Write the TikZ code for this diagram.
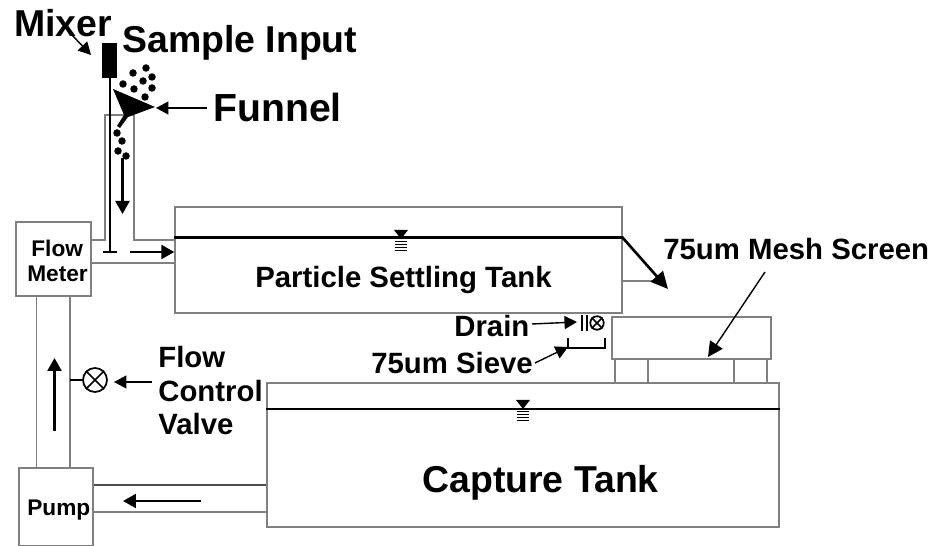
\documentclass[tikz,border=0pt]{standalone}
\usepackage{fontspec}
\setmainfont{Liberation Sans}
\usetikzlibrary{arrows.meta}
\definecolor{rohr}{HTML}{808080}
\tikzset{
  box/.style={draw=rohr,line width=0.85pt,inner sep=0pt},
  pipe/.style={rohr,line width=0.85pt},
  water/.style={black,line width=1.7pt},
  flow/.style={-{Triangle[length=2.6mm,width=2.8mm]},black,line width=1.3pt},
  note/.style={-{Triangle[length=2.5mm,width=2.6mm]},black,line width=0.8pt},
  big/.style={inner sep=0pt,anchor=base west,font=\fontsize{21.3}{24}\bfseries},
  mid/.style={inner sep=0pt,anchor=base west,font=\fontsize{16.7}{19}\bfseries},
  small/.style={inner sep=0pt,anchor=base west,font=\fontsize{12.9}{15}\bfseries},
  grain/.style={circle,fill=black,inner sep=0pt,minimum size=0.15cm},
  valve/.style={circle,draw=black,line width=1pt,inner sep=0pt},
  level/.pic={
    \fill (-7,-8)--(7,-8)--(0,1)--cycle;
    \foreach \yy in {3.5,6.5,9.5,12.5} \draw[line width=1.1pt] (-6,\yy)--(6,\yy);
  },
}
\begin{document}
\begin{tikzpicture}[x=0.02cm,y=-0.02cm]
  \useasboundingbox (0,0) rectangle (937,546);
  % boxes
  \node[box,minimum width=1.5cm,minimum height=1.48cm] (flowmeter) at (53.5,259) {};
  \node[box,minimum width=1.48cm,minimum height=1.56cm] (pump) at (56,507) {};
  \node[box,minimum width=8.94cm,minimum height=2.12cm] (settling) at (398.5,260) {};
  \node[box,minimum width=10.24cm,minimum height=2.88cm] (capture) at (523,455) {};
  \node[box,minimum width=3.18cm,minimum height=0.84cm] (mesh) at (691.5,338) {};
  \node[box,minimum width=0.66cm,minimum height=0.48cm] (legl) at (631.5,371) {};
  \node[box,minimum width=0.66cm,minimum height=0.48cm] (legr) at (750.5,371) {};
  % pipes
  \coordinate (pipel) at (36.5,0);
  \coordinate (piper) at (70,0);
  \draw[pipe] (pipel |- flowmeter.south)--(pipel |- pump.north);
  \draw[pipe] (piper |- flowmeter.south)--(piper |- pump.north);
  \draw[pipe,black!70,line width=0.7pt] (pump.east |- 0,485)--(capture.west |- 0,485);
  \draw[pipe] (pump.east |- 0,512)--(capture.west |- 0,512);
  \draw[pipe] (flowmeter.east |- 0,263)--(settling.west |- 0,263);
  \draw[pipe] (flowmeter.east |- 0,240)--(105,240)--(105,115)--(134,115)--(134,240)--(settling.west |- 0,240);
  \draw[pipe] (settling.east |- 0,281)--(655,281);
  % water
  \draw[water] (settling.west |- 0,238)--(settling.east |- 0,238);
  \draw[water] (capture.west |- 0,409)--(capture.east |- 0,409);
  \pic at (401,238) {level};
  \pic at (523,408) {level};
  % mixer
  \fill (102,43) rectangle (117,78);
  \draw[line width=1.3pt] (110,78)--(110,252);
  \draw[line width=1.3pt] (103,252)--(117,252);
  % funnel
  \fill (113,89)--(155,107)--(128,117)--(120,128)--(117,126)--(124,115)--cycle;
  \foreach \px/\py in {133/73,146/68,152/77,143/81,152/88,134/89,123/84,145/97,117/133,122/141,118/151,126/156}
    \node[grain] at (\px,\py) {};
  % flow arrows
  \draw[flow] (122.5,158)--(122.5,214);
  \draw[flow] (130,252)--(settling.west |- 0,252);
  \draw[flow] (54.5,431)--(54.5,358);
  \draw[flow] (201,501)--(123,501);
  \coordinate (overflow) at (622,237);
  \draw[-{Triangle[length=3.4mm,width=3.2mm]},line width=1.5pt] (overflow)--(668,289);
  % valves
  \node[valve,minimum size=0.48cm] (ctrl) at (95,380) {};
  \draw[line width=1pt] (ctrl.north west)--(ctrl.south east) (ctrl.north east)--(ctrl.south west);
  \draw[line width=1pt] (piper |- ctrl)--(ctrl.west);
  \node[valve,minimum size=0.27cm] (drain) at (597,323) {};
  \draw[line width=0.9pt] (drain.north west)--(drain.south east) (drain.north east)--(drain.south west);
  \draw[line width=1.2pt] (582,315)--(582,331) (587,315)--(587,331);
  \coordinate (bars) at (577,322);
  % sieve
  \draw[line width=1.2pt] (568,338)--(568,348)--(605,348)--(605,338);
  \coordinate (sieve) at (568,347);
  % labels
  \node[big] (mixerl) at (14,37) {Mixer};
  \node[big] (samplel) at (122,53) {Sample Input};
  \node[big,font=\fontsize{22.3}{24}\bfseries] (funnell) at (213,122) {Funnel};
  \node[mid] (particlel) at (255,288) {Particle Settling Tank};
  \node[mid] (screenl) at (663,260) {75um Mesh Screen};
  \node[mid] (drainl) at (454,337) {Drain};
  \node[mid] (sievel) at (371,374) {75um Sieve};
  \node[mid] (flowl) at (158,368) {Flow};
  \node[mid] (controll) at (158,402) {Control};
  \node[mid] (valvel) at (158,435) {Valve};
  \node[big] (capturel) at (422,493) {Capture Tank};
  \node[small] (flowt) at (31,257) {Flow};
  \node[small] (metert) at (27,282) {Meter};
  \node[small] (pumpt) at (27,516) {Pump};
  % pointers
  \draw[note] (72,35)--(91,55);
  \draw[note] (207,108)--(156,108);
  \draw[note] (532,324)--(bars);
  \draw[note] (535,363)--(sieve);
  \draw[note,-{Triangle[length=3mm,width=3mm]}] (765,272)--(708,357);
  \draw[note] (152,382)--(114,382);
\end{tikzpicture}
\end{document}
